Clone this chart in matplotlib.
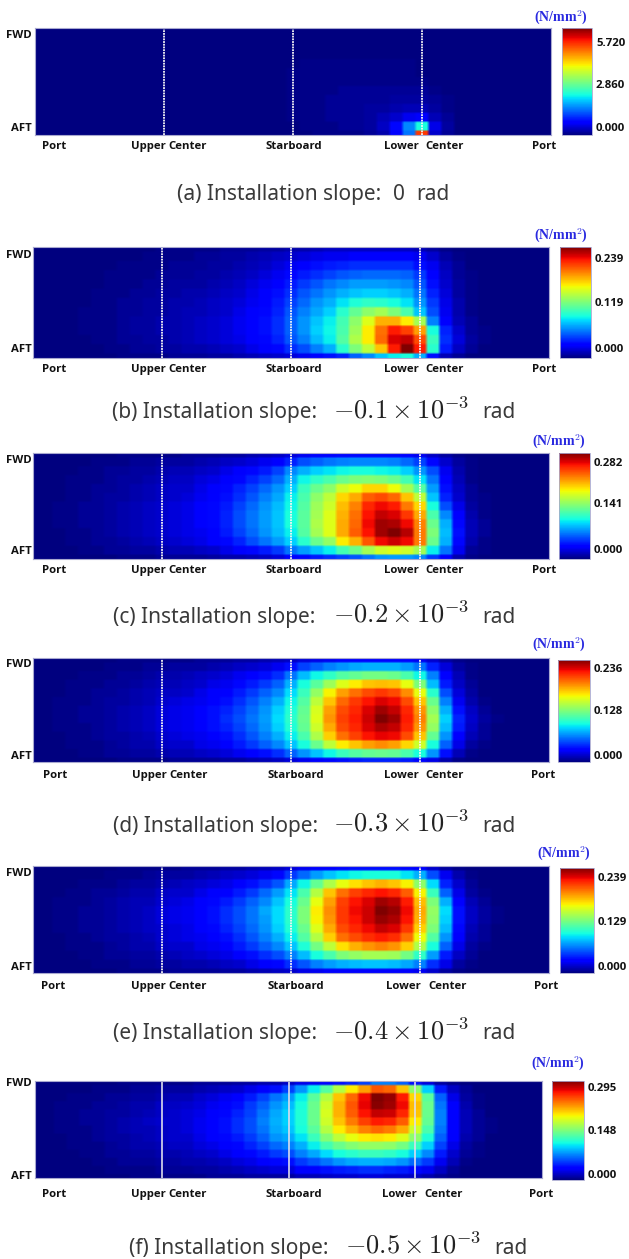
import matplotlib
matplotlib.use("Agg")
import matplotlib.pyplot as plt
import numpy as np

W, H = 629, 1259
plt.rcParams['mathtext.fontset'] = 'cm'

# stress in percent of each panel's maximum, FWD (top) to AFT (bottom)
# rows are cut after the last non zero cell, the rest of the row is zero
pct_a = [
    [0],
    [0],
    [0],
    [0],
    [0,0,0,0,0,0,0,0,0,0,0,0,0,0,0,0,0,0,0,0,0,1,1,1,1,1,1,1,1,1],
    [0,0,0,0,0,0,0,0,0,0,0,0,0,0,0,0,0,0,0,0,1,1,1,1,1,1,1,1,1,1],
    [0,0,0,0,0,0,0,0,0,0,0,0,0,0,0,0,0,0,0,0,1,1,1,1,1,1,1,1,1,1,1],
    [0,0,0,0,0,0,0,0,0,0,0,0,0,0,0,0,0,0,0,0,1,1,1,1,2,2,2,2,2,2,2,1],
    [0,0,0,0,0,0,0,0,0,0,0,0,0,0,0,0,0,0,0,0,1,1,1,2,2,2,2,2,3,3,3,2,1],
    [0,0,0,0,0,0,0,0,0,0,0,0,0,0,0,0,0,0,0,0,1,1,1,2,2,2,3,3,4,5,5,3,1],
    [0,0,0,0,0,0,0,0,0,0,0,0,0,0,0,0,0,0,0,0,1,1,1,2,2,2,3,5,7,10,11,5,2],
    [0,0,0,0,0,0,0,0,0,0,0,0,0,0,0,0,0,0,0,0,0,1,1,1,2,2,3,6,13,26,38,9,3],
    [0,0,0,0,0,0,0,0,0,0,0,0,0,0,0,0,0,0,0,0,0,0,1,1,1,1,2,4,11,24,85,7,2],
]
pct_b = [
    [0,0,0,0,0,0,0,0,0,0,1,1,1,1,1,2,2,2,3,3,4,4,5,6,6,6,6,6,6,6,5,3,1],
    [0,0,0,0,0,0,0,0,0,1,1,1,1,2,2,3,3,4,5,6,7,8,9,10,10,11,11,11,11,11,10,7,3,1],
    [0,0,0,0,0,0,0,1,1,1,1,2,2,2,3,3,4,5,6,8,10,12,14,15,16,17,17,17,17,17,14,10,5,2],
    [0,0,0,0,0,0,1,1,1,1,2,2,2,3,3,4,5,6,8,10,13,15,17,19,21,22,23,23,23,22,18,12,6,2,1],
    [0,0,0,0,0,0,1,1,1,2,2,3,3,3,4,5,6,8,10,12,15,18,21,24,26,28,28,28,27,26,21,14,7,3,1],
    [0,0,0,0,0,1,1,1,2,2,3,3,4,4,5,6,7,9,11,14,17,21,24,27,30,32,33,33,32,30,24,16,8,3,1],
    [0,0,0,0,0,1,1,2,2,3,3,4,4,5,6,7,8,10,12,15,19,23,27,30,35,39,41,40,38,35,27,18,9,4,1],
    [0,0,0,0,1,1,1,2,2,3,3,4,5,5,6,7,9,11,13,16,21,25,29,33,40,47,52,55,50,44,32,20,10,4,1],
    [0,0,0,0,1,1,1,2,3,3,4,4,5,6,7,8,10,12,14,17,22,27,32,36,43,52,62,72,72,66,55,25,11,5,2],
    [0,0,0,0,1,1,1,2,3,3,4,4,5,6,7,8,10,12,14,17,22,27,33,37,44,54,66,79,88,84,74,38,16,7,2,1],
    [0,0,0,0,0,1,1,2,2,3,3,4,5,6,7,8,9,11,13,16,21,25,31,36,45,56,66,80,92,94,83,42,17,8,3,1],
    [0,0,0,0,0,0,1,1,2,2,3,3,4,4,5,6,7,9,11,13,17,20,25,30,40,50,58,70,88,100,88,40,15,6,2],
    [0,0,0,0,0,0,0,1,1,1,1,2,2,2,3,3,4,5,6,7,8,10,12,14,16,22,26,32,36,38,30,14,5,2],
]
pct_c = [
    [0,0,0,0,0,0,0,1,1,1,1,1,2,2,2,3,3,4,5,6,8,10,11,12,13,13,13,13,13,12,10,6,3,1],
    [0,0,0,0,0,1,1,1,2,2,3,3,3,4,5,6,7,8,10,12,16,20,22,24,25,26,26,26,25,23,19,13,7,3,1],
    [0,0,0,0,1,1,2,2,3,3,4,5,5,6,7,9,11,13,15,19,26,30,33,35,37,38,38,37,36,33,27,20,10,4,1],
    [0,0,0,1,1,1,2,3,3,4,5,6,6,8,9,11,13,16,19,23,30,37,41,44,48,50,51,50,48,43,35,24,12,5,1],
    [0,0,0,1,1,2,2,3,4,5,6,7,7,9,11,13,16,19,23,27,33,42,48,52,60,64,68,68,64,55,45,28,14,6,2],
    [0,0,0,1,1,2,3,3,4,5,6,7,8,10,12,14,17,21,25,29,36,44,52,58,68,73,81,83,80,70,58,32,16,7,2,1],
    [0,0,1,1,2,2,3,4,5,6,7,8,9,11,13,15,19,23,27,31,37,45,54,60,71,77,87,90,88,78,68,38,20,9,3,1],
    [0,0,1,1,2,2,3,4,5,6,7,8,9,11,13,16,20,24,28,32,38,46,55,62,72,79,89,94,92,85,73,44,26,12,4,1],
    [0,0,1,1,2,2,3,4,5,6,7,8,9,11,13,16,20,24,28,32,38,46,56,62,73,80,90,97,96,90,77,48,30,13,5,2],
    [0,0,0,1,1,2,3,4,5,6,7,8,9,10,12,15,19,23,27,31,36,45,55,62,73,81,89,97,100,95,78,50,31,14,5,2],
    [0,0,0,1,1,2,2,3,4,5,6,7,8,9,11,13,16,20,24,28,33,40,48,53,66,72,82,90,93,90,78,48,30,13,4,1],
    [0,0,0,0,1,1,2,2,3,3,4,5,5,6,7,9,11,13,15,18,24,28,32,36,43,48,55,60,62,60,55,36,24,10,2,1],
    [0,0,0,0,0,0,0,1,1,1,2,2,2,2,3,4,4,5,6,8,11,13,15,17,19,21,24,27,28,28,26,18,11,4,1],
]
pct_d = [
    [0,0,0,0,0,0,0,1,1,1,1,1,1,2,2,2,3,3,4,5,6,8,9,10,11,12,12,12,12,11,10,7,3,1],
    [0,0,0,0,0,0,1,1,1,2,2,3,3,3,4,5,6,7,8,10,14,19,22,25,27,29,30,30,30,28,24,16,8,3,1],
    [0,0,0,0,1,1,1,2,2,3,4,4,5,6,7,8,10,12,14,17,24,31,37,41,45,47,49,49,48,44,37,25,12,5,1],
    [0,0,0,1,1,1,2,2,3,4,5,5,6,7,9,10,13,15,18,22,30,38,46,54,62,66,70,71,70,63,50,31,15,6,2],
    [0,0,0,1,1,2,2,3,4,5,6,6,7,9,11,12,15,18,22,26,34,42,53,65,74,79,83,85,83,76,63,40,20,8,3],
    [0,0,1,1,1,2,3,3,4,5,7,8,9,10,12,14,17,21,25,30,37,45,58,70,80,85,89,92,90,83,70,48,25,10,4,1],
    [0,0,1,1,2,2,3,4,5,6,8,9,10,12,14,16,19,23,27,33,39,47,61,74,83,87,92,97,94,87,75,52,30,14,6,2],
    [0,0,1,1,2,2,3,4,5,6,8,9,10,12,14,17,20,24,28,34,40,48,62,75,84,88,93,100,97,88,77,55,33,16,7,3,1],
    [0,0,1,1,1,2,3,4,5,6,8,9,10,11,14,16,19,23,27,33,39,47,60,73,83,87,92,96,94,87,75,53,31,15,6,2],
    [0,0,0,1,1,2,3,3,4,5,7,8,9,10,12,14,17,21,25,30,36,44,56,69,79,84,89,91,90,83,70,47,27,12,5,2],
    [0,0,0,1,1,1,2,3,4,4,6,7,7,9,10,12,15,18,22,26,32,38,48,58,66,70,74,76,74,68,60,38,22,9,3,1],
    [0,0,0,0,1,1,2,2,3,3,4,5,5,6,7,8,10,12,14,17,22,27,32,37,42,45,47,48,47,44,38,27,14,5,1],
    [0,0,0,0,0,0,0,1,1,1,1,2,2,2,2,3,3,4,5,6,8,10,12,13,14,15,16,16,16,15,13,9,4,1],
]
pct_e = [
    [0,0,0,0,0,0,0,1,1,1,1,1,2,2,2,3,3,4,5,6,8,10,11,12,13,14,14,14,14,13,11,7,3,1],
    [0,0,0,0,0,0,1,1,1,2,3,3,3,4,5,6,7,8,10,13,18,23,28,32,35,37,38,38,38,35,30,20,10,4,1],
    [0,0,0,0,1,1,1,2,3,3,4,5,6,7,8,9,11,14,17,21,29,37,47,56,63,67,70,72,70,65,52,34,16,7,2],
    [0,0,0,1,1,2,2,3,4,4,6,7,7,9,11,12,15,18,23,28,35,44,57,70,79,84,87,89,87,81,65,42,22,9,3,1],
    [0,0,1,1,1,2,3,4,5,5,7,8,9,11,13,15,18,22,26,32,38,48,63,74,84,89,92,97,95,88,71,50,30,12,5,2],
    [0,0,1,1,2,2,3,4,5,6,8,9,10,12,14,17,20,24,29,34,40,50,66,76,85,90,93,100,98,90,73,53,34,14,6,3,1],
    [0,0,1,1,2,2,3,4,5,6,8,9,10,12,14,17,20,24,28,34,40,50,65,75,85,89,93,98,96,89,72,52,33,14,6,3,1],
    [0,0,1,1,2,2,3,4,5,6,7,8,9,11,13,16,19,23,27,33,39,48,62,73,83,87,90,94,92,85,69,50,31,13,5,2],
    [0,0,0,1,1,2,3,3,4,5,7,8,9,10,12,14,17,21,25,30,36,45,57,69,79,83,86,88,86,79,64,45,27,11,4,2],
    [0,0,0,1,1,1,2,3,4,4,6,7,7,9,10,12,15,18,22,26,32,39,49,58,67,72,75,77,75,69,56,38,22,9,3,1],
    [0,0,0,0,1,1,2,2,3,3,4,5,6,7,8,9,11,14,17,20,25,31,38,44,50,53,55,55,54,49,41,28,15,6,2],
    [0,0,0,0,0,1,1,1,2,2,3,3,4,4,5,6,7,9,11,13,17,21,25,28,30,31,32,32,31,29,25,17,9,3,1],
    [0,0,0,0,0,0,0,1,1,1,1,2,2,2,2,3,3,4,5,6,7,9,10,11,12,12,12,12,12,11,10,7,3,1],
]
pct_f = [
    [0,0,0,0,0,0,0,1,1,1,1,1,1,2,2,2,3,3,4,4,6,9,10,12,14,16,19,25,25,22,14,8,3,1],
    [0,0,0,0,0,1,1,1,2,2,3,3,3,4,5,6,7,9,11,14,19,27,36,45,57,66,74,82,80,70,52,33,15,6,2],
    [0,0,0,1,1,1,2,2,3,3,4,5,5,7,8,10,12,15,19,24,28,36,46,57,70,80,90,100,98,88,68,46,22,9,3,1],
    [0,0,1,1,1,2,2,3,4,4,6,6,7,8,10,12,14,18,22,27,31,38,48,60,72,82,91,99,97,90,71,48,24,11,4,1],
    [0,0,1,1,2,2,3,3,4,5,6,7,8,9,11,13,16,19,24,29,33,39,48,61,72,81,89,94,93,87,70,48,25,12,5,2],
    [0,0,1,1,2,2,3,4,5,6,7,7,8,10,12,14,17,20,25,30,33,39,48,60,70,78,84,88,87,81,66,47,25,12,5,2,1],
    [0,0,1,1,1,2,3,4,5,5,6,7,8,10,12,14,17,20,24,29,32,38,46,57,66,72,77,80,78,73,60,44,24,12,5,2,1],
    [0,0,0,1,1,2,3,3,4,5,6,7,7,9,11,13,15,18,22,27,29,35,42,51,58,63,66,67,66,62,52,39,22,11,4,2],
    [0,0,0,1,1,1,2,3,4,4,5,6,6,8,9,11,13,16,19,23,25,30,36,43,48,51,53,53,52,49,42,33,19,9,3,1],
    [0,0,0,0,1,1,2,2,3,3,4,4,5,6,7,9,11,13,15,18,20,25,29,34,38,40,42,42,41,38,33,26,15,7,2,1],
    [0,0,0,0,0,1,1,2,2,2,3,3,4,4,5,6,8,9,11,13,14,18,21,24,27,29,30,30,29,27,23,18,10,5,1],
    [0,0,0,0,0,0,1,1,1,1,2,2,2,3,3,4,5,6,7,8,8,11,12,14,15,16,17,17,16,15,13,10,6,2],
    [0,0,0,0,0,0,0,0,1,1,1,1,1,1,2,2,2,3,3,3,3,5,5,6,7,7,8,8,7,7,6,4,2,1],
]

prefixes = ["(a) Installation slope:", "(b) Installation slope:", "(c) Installation slope:",
            "(d) Installation slope:", "(e) Installation slope:", "(f) Installation slope:"]
slopes = ["0", r"$-0.1\times 10^{-3}$", r"$-0.2\times 10^{-3}$",
          r"$-0.3\times 10^{-3}$", r"$-0.4\times 10^{-3}$", r"$-0.5\times 10^{-3}$"]
cbar_labels = [
    ["5.720", "2.860", "0.000"],
    ["0.239", "0.119", "0.000"],
    ["0.282", "0.141", "0.000"],
    ["0.236", "0.128", "0.000"],
    ["0.239", "0.129", "0.000"],
    ["0.295", "0.148", "0.000"],
]
x_names = ["Port", "Upper", "Center", "Starboard", "Lower", "Center", "Port"]
all_pct = [pct_a, pct_b, pct_c, pct_d, pct_e, pct_f]

# pixel layout of each panel
axes_px = [(35, 551, 28, 135), (33, 549, 247, 358), (33, 549, 453, 559),
           (33, 549, 658, 762), (33, 549, 866, 973), (35, 542, 1081, 1178)]
cbar_px = [(562, 592, 28, 135), (560, 591, 247, 358), (559, 590, 453, 559),
           (558, 590, 660, 762), (560, 594, 868, 973), (552, 584, 1081, 1180)]
cbar_label_y = [(46, 88, 131), (262, 306, 352), (466, 507, 553),
                (672, 714, 759), (881, 925, 970), (1091, 1134, 1178)]
fwd_aft_y = [(38, 131), (258, 352), (463, 554), (667, 759), (876, 970), (1086, 1179)]
xlabel_y = [149, 372, 573, 778, 989, 1197]
unit_y = [17, 235, 441, 644, 853, 1063]
unit_x = [534, 534, 532, 532, 537, 531]
caption_y = [200, 418, 623, 832, 1039, 1254]
# left edges of prefix, slope and "rad"
caption_x = [(177, 393, 416), (112, 333, 482), (113, 333, 482),
             (113, 333, 482), (113, 333, 482), (129, 345, 494)]
xlabel_x = [
    [42, 131, 168, 266, 384, 425, 532],
    [42, 131, 168, 266, 384, 425, 532],
    [42, 131, 168, 266, 384, 425, 532],
    [43, 132, 169, 267, 384, 425, 531],
    [41, 131, 168, 267, 386, 428, 534],
    [42, 131, 168, 265, 382, 424, 529],
]


def grid(rows):
    # edge rows and columns are half as wide, quarter cell grid keeps that
    out = np.zeros((13, 41))
    for i, row in enumerate(rows):
        out[i, :len(row)] = row
    row_counts = [2] + [4] * 11 + [2]
    col_counts = [2] + [4] * 39 + [2]
    return np.repeat(np.repeat(out, row_counts, axis=0), col_counts, axis=1)


def add_px_axes(fig, box):
    x0, x1, y0, y1 = box
    return fig.add_axes([x0 / W, 1 - y1 / H, (x1 - x0) / W, (y1 - y0) / H])


def px_text(fig, x, y, s, **kw):
    fig.text(x / W, 1 - y / H, s, **kw)


fig = plt.figure(figsize=(W / 100, H / 100), dpi=100)
label_kw = dict(family='Open Sans', fontweight='bold', fontsize=8.2, color='#111111', va='baseline')
caption_kw = dict(family='Noto Sans', fontsize=15, color='#3a3a3a', va='baseline', ha='left')

for i, pct in enumerate(all_pct):
    ax = add_px_axes(fig, axes_px[i])
    im = ax.imshow(grid(pct), cmap='jet', vmin=0, vmax=100, extent=(0, 40, 12, 0),
                   aspect='auto', interpolation='bilinear')
    ax.set_xticks([])
    ax.set_yticks([])
    for s in ax.spines.values():
        s.set_color('#a8a8d0')
        s.set_linewidth(0.8)
    for pos in [10, 20, 30]:
        if i == 5:
            ax.axvline(pos, color='#dcdcec', lw=1.2)
        else:
            ax.axvline(pos, color='#f4f4f4', lw=1.3, ls=(0, (1, 0.5)))

    cax = add_px_axes(fig, cbar_px[i])
    cb = fig.colorbar(im, cax=cax)
    cb.set_ticks([])
    cb.outline.set_edgecolor('#a8a8d0')
    cb.outline.set_linewidth(0.6)

    for name, x in zip(x_names, xlabel_x[i]):
        px_text(fig, x, xlabel_y[i], name, ha='left', **label_kw)
    px_text(fig, 32, fwd_aft_y[i][0], "FWD", ha='right', **label_kw)
    px_text(fig, 32, fwd_aft_y[i][1], "AFT", ha='right', **label_kw)
    for lab, y in zip(cbar_labels[i], cbar_label_y[i]):
        px_text(fig, cbar_px[i][1] + 4, y, lab, ha='left', **label_kw)
    px_text(fig, unit_x[i], unit_y[i], r"(N/mm$^{\mathbf{2}}$)", ha='left', va='center',
            family='Liberation Serif', fontweight='bold', fontsize=10, color='#2a2ae0')

    x0, x1, x2 = caption_x[i]
    px_text(fig, x0, caption_y[i], prefixes[i], **caption_kw)
    if i == 0:
        px_text(fig, x1, caption_y[i], slopes[i], **caption_kw)
    else:
        px_text(fig, x1, caption_y[i], slopes[i], fontsize=19, va='baseline', ha='left', color='#222222')
    px_text(fig, x2, caption_y[i], "rad", **caption_kw)

fig.savefig('out.png', dpi=100, facecolor='white')
